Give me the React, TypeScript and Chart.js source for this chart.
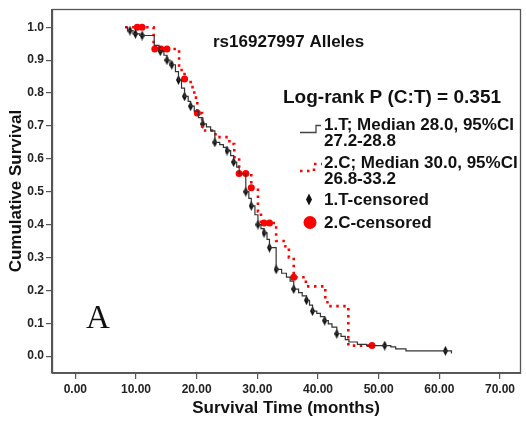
import { useEffect, useRef } from "react";
import { Chart, registerables } from "chart.js";

Chart.register(...registerables);

// ---- data ----
const tTime = [8.2, 8.6, 9.5, 10.6, 13.0, 13.8, 14.6, 15.1, 15.6, 16.5, 17.0, 17.5, 18.0, 18.6, 19.0, 19.6, 20.3, 21.0, 21.6, 22.3, 23.0, 23.8, 24.4, 25.0, 25.6, 26.1, 26.6, 27.0, 28.1, 28.6, 29.0, 29.6, 30.1, 30.6, 31.1, 31.6, 32.0, 33.1, 34.0, 34.8, 35.4, 36.0, 36.8, 37.4, 38.1, 38.6, 39.1, 39.8, 40.4, 41.1, 41.7, 42.3, 43.1, 43.8, 44.5, 45.1, 46.5, 48.0, 52.0, 52.8, 54.5, 62.0];
const tSurv = [1.0, 0.99, 0.98, 0.975, 0.945, 0.927, 0.915, 0.9, 0.886, 0.865, 0.84, 0.815, 0.79, 0.775, 0.76, 0.745, 0.725, 0.706, 0.697, 0.685, 0.65, 0.643, 0.635, 0.625, 0.61, 0.59, 0.575, 0.555, 0.5, 0.48, 0.457, 0.43, 0.4, 0.388, 0.375, 0.355, 0.33, 0.264, 0.252, 0.24, 0.228, 0.204, 0.193, 0.183, 0.17, 0.155, 0.137, 0.13, 0.12, 0.108, 0.098, 0.088, 0.068, 0.06, 0.05, 0.043, 0.036, 0.032, 0.028, 0.022, 0.016, 0.008];

const cTime = [8.2, 12.9, 17.1, 18.0, 19.0, 19.6, 20.1, 20.9, 23.1, 25.4, 26.2, 27.0, 29.0, 30.1, 30.6, 33.1, 34.6, 35.2, 36.0, 38.0, 41.2, 41.8, 45.0, 48.9];
const cSurv = [1.0, 0.934, 0.87, 0.843, 0.818, 0.786, 0.739, 0.686, 0.666, 0.645, 0.605, 0.555, 0.512, 0.44, 0.405, 0.35, 0.334, 0.3, 0.24, 0.212, 0.164, 0.152, 0.032, 0.032];

const tCensTime = [9.0, 9.9, 11.0, 14.0, 15.1, 15.9, 17.0, 18.0, 19.0, 21.0, 23.0, 25.0, 26.1, 28.1, 29.0, 30.1, 31.1, 32.0, 33.1, 36.0, 38.1, 39.1, 41.1, 43.1, 51.0, 61.0];
const tCensSurv = [0.99, 0.98, 0.975, 0.927, 0.9, 0.886, 0.84, 0.79, 0.76, 0.706, 0.65, 0.625, 0.59, 0.5, 0.457, 0.4, 0.375, 0.33, 0.264, 0.204, 0.17, 0.137, 0.108, 0.068, 0.032, 0.016];

const cCensTime = [10.2, 11.0, 13.1, 14.1, 15.1, 18.0, 20.1, 27.0, 28.1, 29.0, 31.1, 32.0, 36.0, 48.9];
const cCensSurv = [1.0, 1.0, 0.934, 0.934, 0.934, 0.843, 0.739, 0.555, 0.555, 0.512, 0.405, 0.405, 0.24, 0.032];

const xTicks = [0, 10, 20, 30, 40, 50, 60, 70];
const yTicks = [0, 0.1, 0.2, 0.3, 0.4, 0.5, 0.6, 0.7, 0.8, 0.9, 1.0];

const chartTitle = "rs16927997 Alleles";
const logRankText = "Log-rank P (C:T) = 0.351";
const legendT = ["1.T; Median 28.0, 95%CI", "27.2-28.8"];
const legendC = ["2.C; Median 30.0, 95%CI", "26.8-33.2"];
const legendTCens = "1.T-censored";
const legendCCens = "2.C-censored";
const panelLabel = "A";

const SANS = "'Liberation Sans', Arial, Helvetica, sans-serif";
const SERIF = "'Liberation Serif', 'Times New Roman', serif";

function makeDiamond(w: number, h: number, color: string) {
  const c = document.createElement("canvas");
  c.width = w;
  c.height = h;
  const g = c.getContext("2d")!;
  g.fillStyle = color;
  g.beginPath();
  g.moveTo(w / 2, 0);
  g.lineTo(w, h / 2);
  g.lineTo(w / 2, h);
  g.lineTo(0, h / 2);
  g.closePath();
  g.fill();
  return c;
}

const toXY = (xs: number[], ys: number[]) => xs.map((x, i) => ({ x, y: ys[i] }));

export default function App() {
  const ref = useRef<HTMLCanvasElement | null>(null);

  useEffect(() => {
    document.body.style.margin = "0";
    const canvas = ref.current!;
    const diamond = makeDiamond(5, 10, "#111");

    const overlay = {
      id: "overlay",
      beforeDatasetsDraw(chart: any) {
        const { ctx, chartArea: a } = chart;
        ctx.save();
        ctx.strokeStyle = "#555";
        ctx.lineWidth = 1.3;
        ctx.strokeRect(Math.round(a.left) + 0.5, Math.round(a.top) + 0.5, a.right - a.left, a.bottom - a.top);
        ctx.restore();
      },
      afterDraw(chart: any) {
        const ctx = chart.ctx as CanvasRenderingContext2D;
        ctx.save();
        ctx.fillStyle = "#111";
        ctx.textBaseline = "middle";
        ctx.textAlign = "left";
        ctx.font = `bold 17px ${SANS}`;
        ctx.fillText(chartTitle, 213, 42);
        ctx.fillText(legendT[0], 324, 125);
        ctx.fillText(legendT[1], 324, 141);
        ctx.fillText(legendC[0], 324, 163);
        ctx.fillText(legendC[1], 324, 179);
        ctx.fillText(legendTCens, 324, 200);
        ctx.fillText(legendCCens, 324, 223);
        ctx.font = `bold 19px ${SANS}`;
        ctx.fillText(logRankText, 283, 98);

        // legend line symbols
        ctx.strokeStyle = "#444";
        ctx.lineWidth = 1.3;
        ctx.beginPath();
        ctx.moveTo(300, 132.5);
        ctx.lineTo(316, 132.5);
        ctx.lineTo(316, 125.5);
        ctx.lineTo(321, 125.5);
        ctx.stroke();

        ctx.strokeStyle = "#ff0000";
        ctx.lineWidth = 2.6;
        ctx.setLineDash([2.5, 4.5]);
        ctx.beginPath();
        ctx.moveTo(300, 171);
        ctx.lineTo(314, 171);
        ctx.lineTo(314, 164);
        ctx.lineTo(322, 164);
        ctx.stroke();
        ctx.setLineDash([]);

        // legend censor markers
        ctx.fillStyle = "#111";
        ctx.beginPath();
        ctx.moveTo(309, 193.5);
        ctx.lineTo(312, 199.5);
        ctx.lineTo(309, 205.5);
        ctx.lineTo(306, 199.5);
        ctx.closePath();
        ctx.fill();
        ctx.fillStyle = "#ff0000";
        ctx.beginPath();
        ctx.arc(310, 222.5, 6.5, 0, Math.PI * 2);
        ctx.fill();

        // panel letter
        ctx.fillStyle = "#111";
        ctx.textBaseline = "alphabetic";
        ctx.font = `33px ${SERIF}`;
        ctx.fillText(panelLabel, 86, 328);
        ctx.restore();
      },
    };

    const chart = new Chart(canvas, {
      type: "line",
      data: {
        datasets: [
          {
            label: "1.T",
            data: toXY(tTime, tSurv),
            borderColor: "#333",
            borderWidth: 1.2,
            stepped: true,
            pointRadius: 0,
            fill: false,
          },
          {
            label: "2.C",
            data: toXY(cTime, cSurv),
            borderColor: "#ff0000",
            borderWidth: 2.6,
            borderDash: [2.5, 4.5],
            borderCapStyle: "butt",
            stepped: true,
            pointRadius: 0,
            fill: false,
          },
          {
            label: "1.T-censored",
            data: toXY(tCensTime, tCensSurv),
            showLine: false,
            pointStyle: diamond as any,
            pointRadius: 5,
          },
          {
            label: "2.C-censored",
            data: toXY(cCensTime, cCensSurv),
            showLine: false,
            pointStyle: "circle",
            pointRadius: 3.5,
            backgroundColor: "#ff0000",
            borderColor: "#ff0000",
            borderWidth: 0,
          },
        ] as any,
      },
      options: {
        responsive: false,
        animation: false,
        devicePixelRatio: 1,
        layout: { padding: { top: 6, right: 0, left: 0, bottom: 0 } },
        plugins: { legend: { display: false }, tooltip: { enabled: false }, title: { display: false } },
        scales: {
          x: {
            type: "linear",
            min: -3.85,
            max: 73.3,
            afterBuildTicks: (s: any) => {
              s.ticks = xTicks.map((v) => ({ value: v }));
            },
            afterFit: (s: any) => {
              s.height = 57;
            },
            ticks: {
              callback: (v: any) => Number(v).toFixed(2),
              font: { family: SANS, size: 12, weight: "bold" },
              color: "#222",
              padding: 3,
              maxRotation: 0,
              autoSkip: false,
            },
            grid: { drawOnChartArea: false, drawTicks: true, tickLength: 6, color: "#555", lineWidth: 1.2 },
            border: { display: true, color: "#555", width: 1.3 },
            title: {
              display: true,
              text: "Survival Time (months)",
              font: { family: SANS, size: 17, weight: "bold" },
              color: "#111",
              padding: { top: 0, bottom: 11 },
            },
          },
          y: {
            type: "linear",
            min: -0.0513,
            max: 1.055,
            afterBuildTicks: (s: any) => {
              s.ticks = yTicks.map((v) => ({ value: v }));
            },
            afterFit: (s: any) => {
              s.width = 52;
            },
            ticks: {
              callback: (v: any) => Number(v).toFixed(1),
              font: { family: SANS, size: 12, weight: "bold" },
              color: "#222",
              padding: 2,
              autoSkip: false,
            },
            grid: { drawOnChartArea: false, drawTicks: true, tickLength: 6, color: "#555", lineWidth: 1.2 },
            border: { display: true, color: "#555", width: 1.3 },
            title: {
              display: true,
              text: "Cumulative Survival",
              font: { family: SANS, size: 17, weight: "bold" },
              color: "#111",
              padding: { top: 6.5, bottom: 0 },
            },
          },
        },
      },
      plugins: [overlay],
    } as any);

    return () => chart.destroy();
  }, []);

  return (
    <div style={{ width: 526, height: 430, background: "#fff" }}>
      <canvas ref={ref} width={526} height={430} style={{ display: "block", width: 526, height: 430 }} />
    </div>
  );
}
